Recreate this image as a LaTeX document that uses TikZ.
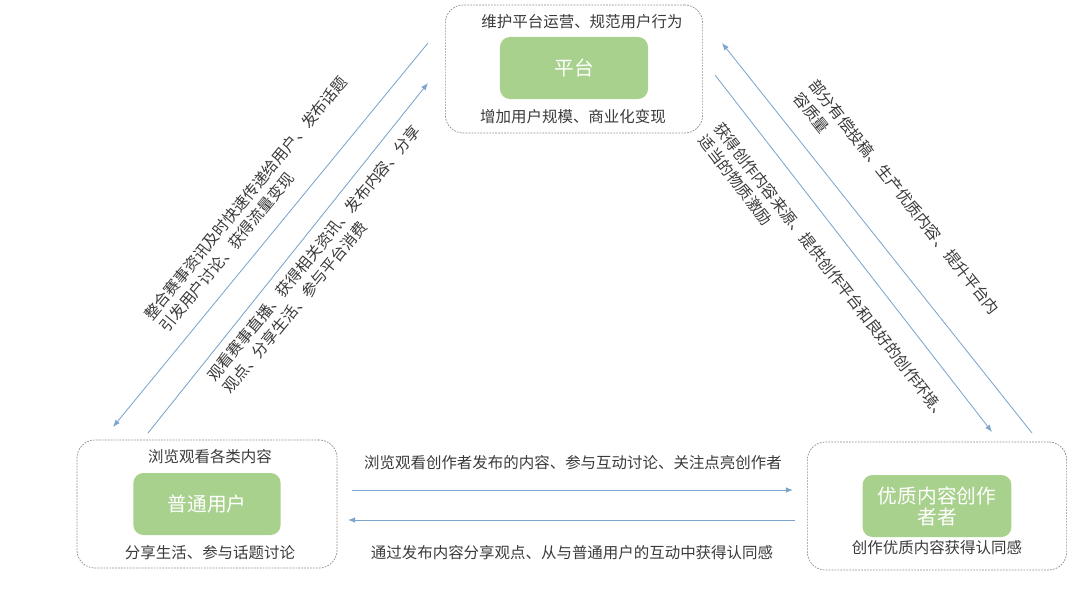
\documentclass[tikz,border=0pt]{standalone}
\usepackage{fontspec}
\setmainfont{Noto Sans CJK SC}
\usepackage{xcolor}
\usetikzlibrary{arrows.meta}
\definecolor{leaf}{HTML}{A9D18E}
\definecolor{flow}{HTML}{7DA5CB}
\definecolor{frameline}{HTML}{8A8A8A}
\definecolor{ink}{HTML}{3A3A3A}
\tikzset{
  % dashed frame around a role and its notes
  roleframe/.style={
    draw=frameline, dash pattern=on 1.2pt off 0.9pt, line width=0.5pt,
    rounded corners=0.45cm, minimum width=#1, minimum height=3.2cm},
  % green box with the role name
  rolebox/.style={
    fill=leaf, draw=none, rounded corners=0.25cm, text=white, align=center,
    font=\fontsize{14}{15}\selectfont, inner sep=2pt,
    minimum width=#1, minimum height=1.55cm},
  % what flows from one role to another
  flowline/.style={-{Latex[length=1.8mm, width=1.4mm]}, draw=flow, line width=0.6pt},
  lbl/.style={font=\fontsize{11}{14.2}\selectfont, text=ink, inner sep=0pt, align=left},
}

\begin{document}
\begin{tikzpicture}[x=0.025cm, y=-0.025cm]
  \useasboundingbox (0,0) rectangle (1080,608);

  % platform
  \node[roleframe=6.43cm] (platframe) at (574,69) {};
  \node[rolebox=3.7cm] (plat) at (574,68) {平台};
  \node[lbl] (plat-top) at (582,22) {维护平台运营、规范用户行为};
  \node[lbl] (plat-bot) at (573,117) {增加用户规模、商业化变现};

  % ordinary users
  \node[roleframe=6.5cm] (userframe) at (207,504) {};
  \node[rolebox=3.68cm] (user) at (207,504) {普通用户};
  \node[lbl] (user-top) at (210,457) {浏览观看各类内容};
  \node[lbl] (user-bot) at (210,553) {分享生活、参与话题讨论};

  % content creators
  \node[roleframe=6.48cm] (creatorframe) at (937,506) {};
  \node[rolebox=3.72cm] (creator) at (937,506) {优质内容创作\\者者};
  \node[lbl] (creator-bot) at (937,548) {创作优质内容获得认同感};

  \coordinate (lo-a) at (428,43);   \coordinate (lo-b) at (113,427);
  \coordinate (li-a) at (148,433);  \coordinate (li-b) at (428,83);
  \coordinate (ro-a) at (1032,433); \coordinate (ro-b) at (722,43);
  \coordinate (ri-a) at (715,75);   \coordinate (ri-b) at (992,432);
  \coordinate (bt-a) at (352,490);  \coordinate (bt-b) at (793,490);
  \coordinate (bb-a) at (795,520);  \coordinate (bb-b) at (348,520);

  \draw[flowline] (lo-a) -- (lo-b);
  \draw[flowline] (li-a) -- (li-b);
  \draw[flowline] (ro-a) -- (ro-b);
  \draw[flowline] (ri-a) -- (ri-b);
  \draw[flowline] (bt-a) -- (bt-b);
  \draw[flowline] (bb-a) -- (bb-b);

  \node[lbl, rotate=50.6, anchor=west] (lo-lbl) at (155,324)
    {整合赛事资讯及时快速传递给用户、发布话题\\引发用户讨论、获得流量变现};
  \node[lbl, rotate=50.6, anchor=west] (li-lbl) at (218,385)
    {观看赛事直播、获得相关资讯、发布内容、分享\\观点、分享生活、参与平台消费};
  \node[lbl, rotate=-51.5, anchor=west] (ro-lbl) at (805,88)
    {部分有偿投稿、生产优质内容、提升平台内\\容质量};
  \node[lbl, rotate=-52.2, anchor=west] (ri-lbl) at (710,131)
    {获得创作内容来源、提供创作平台和良好的创作环境、\\适当的物质激励};
  \node[lbl] (bt-lbl) at (573,463) {浏览观看创作者发布的内容、参与互动讨论、关注点亮创作者};
  \node[lbl] (bb-lbl) at (572,553) {通过发布内容分享观点、从与普通用户的互动中获得认同感};

\end{tikzpicture}
\end{document}
